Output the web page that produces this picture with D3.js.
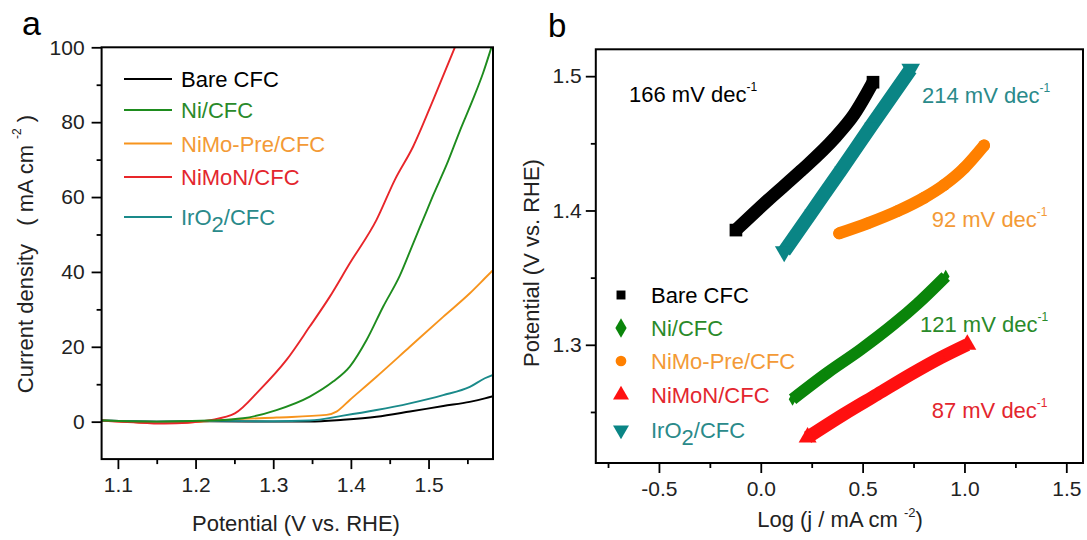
<!DOCTYPE html>
<html><head><meta charset="utf-8">
<script src="https://cdn.jsdelivr.net/npm/d3@7"></script>
<style>
body{margin:0;background:#fff}
svg{display:block}
text{font-family:"Liberation Sans",Arial,Helvetica,sans-serif}
</style>
</head><body>
<svg id="chart" width="1087" height="540"></svg>
<script>
// ---------------- DATA ----------------
const seriesNames = ["Bare CFC", "Ni/CFC", "NiMo-Pre/CFC", "NiMoN/CFC", "IrO2/CFC"];

// Panel a: LSV curves  [potential V vs RHE, current density mA cm-2]
const lsvBare = [[1.079,0.3],[1.15,0.0],[1.218,0.1],[1.30,0.0],[1.347,0.0],[1.39,0.5],[1.433,1.3],[1.476,2.7],[1.519,4.2],[1.553,5.3],[1.5725,6.2],[1.583,6.8]];
const lsvNi = [[1.079,0.3],[1.15,0.0],[1.218,0.3],[1.2612,0.9],[1.3042,3.1],[1.3471,6.7],[1.3771,10.7],[1.3986,14.7],[1.4202,21.8],[1.4415,30.7],[1.463,39.0],[1.48,47.5],[1.497,56.0],[1.506,60.5],[1.523,68.5],[1.540,77.5],[1.557,86.0],[1.570,93.0],[1.581,100]];
const lsvNiMoPre = [[1.079,0.3],[1.12,-0.1],[1.16,-0.4],[1.20,-0.1],[1.25,0.6],[1.3042,1.1],[1.3686,1.8],[1.3815,2.7],[1.3986,5.8],[1.433,12.0],[1.4759,20.0],[1.5188,28.0],[1.5532,34.3],[1.5725,38.3],[1.583,40.5]];
const lsvNiMoN = [[1.079,0.3],[1.12,-0.2],[1.16,-0.5],[1.19,-0.3],[1.2183,0.4],[1.2506,2.2],[1.2827,8.5],[1.3171,16.5],[1.347,25.4],[1.3729,33.4],[1.3986,42.3],[1.433,53.9],[1.4566,64.6],[1.4802,73.5],[1.5059,85.9],[1.5339,100]];
const lsvIrO2 = [[1.079,0.3],[1.15,0.0],[1.218,0.2],[1.30,0.1],[1.347,0.3],[1.39,1.6],[1.433,3.1],[1.4759,4.9],[1.5188,7.1],[1.5532,9.3],[1.5725,11.6],[1.583,12.5]];

const lsvTicksX = [1.1, 1.2, 1.3, 1.4, 1.5];
const lsvMinorX = [1.15, 1.25, 1.35, 1.45, 1.55];
const lsvTicksY = [0, 20, 40, 60, 80, 100];
const lsvMinorY = [10, 30, 50, 70, 90];

// Panel b: Tafel plots  [log(j / mA cm-2), potential V vs RHE]
const tafelBare = [[-0.122,1.3854],[0.034,1.4075],[0.197,1.4295],[0.36,1.4535],[0.458,1.4715],[0.551,1.4955]];
const tafelNi = [[0.156,1.2595],[0.328,1.2793],[0.491,1.2965],[0.654,1.3155],[0.769,1.3305],[0.908,1.3509]];
const tafelNiMoPre = [[0.385,1.383],[0.524,1.3904],[0.671,1.3995],[0.802,1.4095],[0.9,1.419],[0.998,1.4315],[1.096,1.4484]];
const tafelNiMoN = [[0.23,1.2311],[0.409,1.2484],[0.573,1.2632],[0.736,1.278],[0.883,1.2904],[1.014,1.3002]];
const tafelIrO2 = [[0.115,1.3694],[0.246,1.398],[0.393,1.430],[0.54,1.4625],[0.736,1.5052]];

const tafelSlopes = ["166", "121", "92", "87", "214"];  // mV dec-1, in seriesNames order
const tafelTicksX = [-0.5, 0.0, 0.5, 1.0, 1.5];
const tafelMinorX = [-0.75, -0.25, 0.25, 0.75, 1.25];
const tafelTicksY = [1.3, 1.4, 1.5];
const tafelMinorY = [1.25, 1.35, 1.45];

// ---------------- STYLE / LAYOUT ----------------
const lineColors = ["#000000", "#1e8c1e", "#f7941d", "#e8262a", "#1a8a8a"];
const textColors = ["#000000", "#2a8a2a", "#f39a36", "#e3262e", "#2a8a8a"];
const bandColors = ["#000000", "#0a850a", "#ff8000", "#ff1010", "#0a8585"];
const symbolsB = [d3.symbolSquare, d3.symbolDiamond, d3.symbolCircle, d3.symbolTriangle, d3.symbolTriangle];
const symRot = [0, 0, 0, 0, 180];

const svg = d3.select("#chart");
const FONT = 21;
const fmt1 = d => d3.format(".1f")(d).replace("\u2212", "-");

// ======== PANEL A ========
const xA = d3.scaleLinear().domain([1.079, 1.583]).range([101.6, 493]);
const yA = d3.scaleLinear().domain([-10, 100]).range([459.1, 47.3]);
const gA = svg.append("g");

function styleAxis(g) {
  g.select(".domain").remove();
  g.selectAll(".tick line").attr("stroke", "#000").attr("stroke-width", 1.8);
  g.selectAll(".tick text").attr("fill", "#222").style("font-size", FONT + "px")
    .style("font-family", '"Liberation Sans",Arial,sans-serif');
}

gA.append("g").attr("transform", `translate(0,${yA(-10)})`)
  .call(d3.axisBottom(xA).tickValues(lsvTicksX).tickSize(10).tickPadding(8).tickFormat(fmt1))
  .call(styleAxis);
gA.append("g").attr("transform", `translate(0,${yA(-10)})`)
  .call(d3.axisBottom(xA).tickValues(lsvMinorX).tickSize(5).tickFormat(""))
  .call(styleAxis);
gA.append("g").attr("transform", `translate(${xA.range()[0]},0)`)
  .call(d3.axisLeft(yA).tickValues(lsvTicksY).tickSize(10).tickPadding(7).tickFormat(d3.format("d")))
  .call(styleAxis);
gA.append("g").attr("transform", `translate(${xA.range()[0]},0)`)
  .call(d3.axisLeft(yA).tickValues(lsvMinorY).tickSize(5).tickFormat(""))
  .call(styleAxis);

svg.append("defs").append("clipPath").attr("id", "clipA").append("rect")
  .attr("x", xA.range()[0]).attr("y", yA.range()[1])
  .attr("width", xA.range()[1] - xA.range()[0]).attr("height", yA.range()[0] - yA.range()[1]);

const lsvData = [lsvBare, lsvNi, lsvNiMoPre, lsvNiMoN, lsvIrO2];
const lineA = d3.line().x(d => xA(d[0])).y(d => yA(d[1])).curve(d3.curveMonotoneX);
const drawOrder = [0, 2, 4, 3, 1];
drawOrder.forEach(i => {
  gA.append("path").datum(lsvData[i]).attr("d", lineA)
    .attr("fill", "none").attr("stroke", lineColors[i]).attr("stroke-width", 1.9)
    .attr("clip-path", "url(#clipA)");
});

gA.append("rect").attr("x", xA.range()[0]).attr("y", yA.range()[1])
  .attr("width", xA.range()[1] - xA.range()[0]).attr("height", yA.range()[0] - yA.range()[1])
  .attr("fill", "none").attr("stroke", "#000").attr("stroke-width", 2);

function labelWithSub(t, n) {
  if (n.includes("O2")) {
    const p = n.split("O2");
    t.append("tspan").text(p[0] + "O");
    t.append("tspan").text("2").attr("dy", 7);
    t.append("tspan").text(p[1]).attr("dy", -7);
  } else t.text(n);
}

// legend a
const legAy = [79, 110, 143.5, 177, 217];
seriesNames.forEach((n, i) => {
  gA.append("line").attr("x1", 124).attr("x2", 172).attr("y1", legAy[i]).attr("y2", legAy[i])
    .attr("stroke", lineColors[i]).attr("stroke-width", 2);
  const t = gA.append("text").attr("x", 181).attr("y", legAy[i] + 8)
    .attr("fill", textColors[i]).style("font-size", "22px");
  labelWithSub(t, n);
});

// axis titles a
gA.append("text").attr("x", 296).attr("y", 531).attr("text-anchor", "middle")
  .style("font-size", "22px").attr("fill", "#222").text("Potential (V vs. RHE)");
const ytA = gA.append("text").attr("transform", "translate(33,254) rotate(-90)")
  .attr("text-anchor", "middle").style("font-size", "22px").attr("fill", "#222");
ytA.append("tspan").text("Current density\u00a0\u00a0\u00a0( mA cm ");
ytA.append("tspan").text("-2").style("font-size", "12px").attr("dy", -12);
ytA.append("tspan").text("\u00a0)").attr("dy", 12);

svg.append("text").attr("x", 22).attr("y", 35).style("font-size", "34px").text("a");

// ======== PANEL B ========
const xB = d3.scaleLinear().domain([-0.81, 1.582]).range([595.8, 1083]);
const yB = d3.scaleLinear().domain([1.212, 1.52]).range([463, 49.3]);
const gB = svg.append("g");

gB.append("g").attr("transform", `translate(0,${yB.range()[0]})`)
  .call(d3.axisBottom(xB).tickValues(tafelTicksX).tickSize(10).tickPadding(8).tickFormat(fmt1))
  .call(styleAxis);
gB.append("g").attr("transform", `translate(0,${yB.range()[0]})`)
  .call(d3.axisBottom(xB).tickValues(tafelMinorX).tickSize(5).tickFormat(""))
  .call(styleAxis);
gB.append("g").attr("transform", `translate(${xB.range()[0]},0)`)
  .call(d3.axisLeft(yB).tickValues(tafelTicksY).tickSize(10).tickPadding(4).tickFormat(fmt1))
  .call(styleAxis);
gB.append("g").attr("transform", `translate(${xB.range()[0]},0)`)
  .call(d3.axisLeft(yB).tickValues(tafelMinorY).tickSize(5).tickFormat(""))
  .call(styleAxis);

const tafelData = [tafelBare, tafelNi, tafelNiMoPre, tafelNiMoN, tafelIrO2];
const lineB = d3.line().x(d => xB(d[0])).y(d => yB(d[1])).curve(d3.curveMonotoneX);
const bandW = [13, 12, 12, 13, 14];
const innerSize = [80, 40, 110, 60, 70];   // interior points, hidden inside band
const endSize = [160, 50, 110, 140, 150];  // end points form the band caps
tafelData.forEach((data, i) => {
  gB.append("path").datum(data).attr("d", lineB).attr("fill", "none")
    .attr("stroke", bandColors[i]).attr("stroke-width", bandW[i])
    .attr("stroke-linecap", i === 2 ? "round" : "butt");
  gB.selectAll(null).data(data).enter().append("path")
    .attr("d", (d, k) => d3.symbol().type(symbolsB[i])
      .size(k === 0 || k === data.length - 1 ? endSize[i] : innerSize[i])())
    .attr("transform", d => `translate(${xB(d[0])},${yB(d[1])}) rotate(${symRot[i]})`)
    .attr("fill", bandColors[i]);
});

gB.append("rect").attr("x", xB.range()[0]).attr("y", yB.range()[1])
  .attr("width", xB.range()[1] - xB.range()[0]).attr("height", yB.range()[0] - yB.range()[1])
  .attr("fill", "none").attr("stroke", "#000").attr("stroke-width", 2);

// slope labels
const slopePos = [[629, 101.7], [920, 331.7], [931.7, 226.7], [931.7, 418.3], [922, 103]];
tafelSlopes.forEach((s, i) => {
  const t = gB.append("text").attr("x", slopePos[i][0]).attr("y", slopePos[i][1])
    .attr("fill", textColors[i]).style("font-size", "22px");
  t.append("tspan").text(s + " mV dec");
  t.append("tspan").text("-1").style("font-size", "12px").attr("dy", -11);
});

// legend b
const legBy = [295, 328, 361, 395, 430];
const legSym = [80, 110, 90, 110, 110];
seriesNames.forEach((n, i) => {
  gB.append("path").attr("d", d3.symbol().type(symbolsB[i]).size(legSym[i]))
    .attr("transform", `translate(621,${legBy[i]}) rotate(${symRot[i]})`).attr("fill", bandColors[i]);
  const t = gB.append("text").attr("x", 651).attr("y", legBy[i] + 8)
    .attr("fill", textColors[i]).style("font-size", "22px");
  labelWithSub(t, n);
});

// axis titles b
const xtB = gB.append("text").attr("x", 840).attr("y", 527).attr("text-anchor", "middle")
  .style("font-size", "22px").attr("fill", "#222");
xtB.append("tspan").text("Log (j / mA cm ");
xtB.append("tspan").text("-2").style("font-size", "13px").attr("dy", -10);
xtB.append("tspan").text(")").attr("dy", 10);
gB.append("text").attr("transform", "translate(539,263) rotate(-90)").attr("text-anchor", "middle")
  .style("font-size", "22px").attr("fill", "#222").text("Potential (V vs. RHE)");

svg.append("text").attr("x", 548).attr("y", 37).style("font-size", "33px").text("b");
</script>
</body></html>
